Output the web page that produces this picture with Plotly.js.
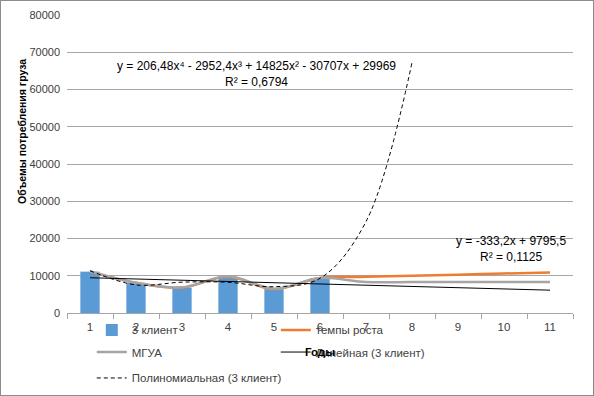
<!DOCTYPE html>
<html><head><meta charset="utf-8">
<script src="https://cdn.plot.ly/plotly-3.0.1.min.js"></script>
<style>html,body{margin:0;padding:0;background:#fff}#chart{width:592px;height:394px;border:1px solid #8c8c8c}</style>
</head><body><div id="chart"></div><script>
// Data
const years = ['1','2','3','4','5','6','7','8','9','10','11'];
const client3Years = ['1','2','3','4','5','6'];
const client3 = [11100, 8100, 6800, 9750, 6400, 9400];
const growthRate = [11100, 8100, 6800, 9750, 6400, 9400, 9700, 10000, 10300, 10600, 10900];
const mgua = [11200, 8100, 6900, 9850, 6500, 9400, 8300, 8300, 8300, 8300, 8300];
const linearYears = ['1', '11'];
const linearTrend = [9460, 6130];
const polyYears = ['1','2','3','4','5','6','7','8'];
const polyTrend = [11340, 7540, 8280, 8250, 7060, 9310, 24530, 67230];
const yTicks = [0, 10000, 20000, 30000, 40000, 50000, 60000, 70000, 80000];

const FONT = 'Liberation Sans, Arial, sans-serif';
const traces = [
  {type:'bar', name:'3 клиент', x:client3Years, y:client3, marker:{color:'#5B9BD5'}, legend:'legend'},
  {type:'scatter', mode:'lines', name:'темпы роста', x:years, y:growthRate, line:{color:'#ED7D31', width:2.5, shape:'spline'}, legend:'legend'},
  {type:'scatter', mode:'lines', name:'МГУА', x:years, y:mgua, line:{color:'#A5A5A5', width:2.5, shape:'spline'}, legend:'legend2'},
  {type:'scatter', mode:'lines', name:'Линейная (3 клиент)', x:linearYears, y:linearTrend, line:{color:'#000000', width:1}, legend:'legend2'},
  {type:'scatter', mode:'lines', name:'Полиномиальная (3 клиент)', x:polyYears, y:polyTrend, line:{color:'#000000', width:1, dash:'4px,3px', shape:'spline'}, legend:'legend3'}
];
const legBase = {orientation:'h', xanchor:'left', yanchor:'middle', entrywidth:139, entrywidthmode:'pixels', bgcolor:'rgba(0,0,0,0)', font:{family:FONT, size:11.5, color:'#404040'}, traceorder:'normal'};
const annFont = {family:FONT, size:12, color:'#000'};
const layout = {
  width:592, height:394,
  margin:{l:66, r:20, t:14, b:82, autoexpand:false},
  paper_bgcolor:'#fff', plot_bgcolor:'#fff',
  font:{family:FONT, size:11, color:'#595959'},
  bargap:0.58,
  showlegend:true,
  xaxis:{type:'category', categoryorder:'array', categoryarray:years, range:[-0.5, 10.5], showgrid:false, showline:true, linecolor:'#a6a6a6', linewidth:1, automargin:false,
         ticks:'outside', tickson:'boundaries', ticklen:5, tickcolor:'#a6a6a6', ticklabelstandoff:3, tickfont:{family:FONT, size:11.5, color:'#404040'},
         title:{text:'<b>Годы</b>', font:{family:FONT, size:11.5, color:'#000'}, standoff:16}},
  yaxis:{range:[0, 80000], tickvals:yTicks, tickformat:'d', showgrid:true, gridcolor:'#a6a6a6', gridwidth:1, zeroline:false, showline:false, automargin:false,
         tickfont:{family:FONT, size:11, color:'#404040'}, ticklabelstandoff:6},
  legend: Object.assign({}, legBase, {x:0.049, y:-0.057}),
  legend2: Object.assign({}, legBase, {x:0.049, y:-0.131}),
  legend3: Object.assign({}, legBase, {x:0.049, y:-0.218, entrywidth:220}),
  annotations:[
    {xref:'paper', yref:'paper', x:0.375, y:0.829, xanchor:'center', yanchor:'middle', text:'y = 206,48x⁴ - 2952,4x³ + 14825x² - 30707x + 29969', showarrow:false, font:annFont},
    {xref:'paper', yref:'paper', x:0.375, y:0.775, xanchor:'center', yanchor:'middle', text:'R² = 0,6794', showarrow:false, font:annFont},
    {xref:'paper', yref:'paper', x:0.877, y:0.2416, xanchor:'center', yanchor:'middle', text:'y = -333,2x + 9795,5', showarrow:false, font:annFont},
    {xref:'paper', yref:'paper', x:0.877, y:0.188, xanchor:'center', yanchor:'middle', text:'R² = 0,1125', showarrow:false, font:annFont},
    {xref:'paper', yref:'paper', x:-0.089, y:0.611, xanchor:'center', yanchor:'middle', text:'<b>Объемы потребления груза</b>', textangle:-90, showarrow:false, font:{family:FONT, size:10.5, color:'#000'}}
  ]
};
Plotly.newPlot('chart', traces, layout, {displayModeBar:false, staticPlot:true});
</script></body></html>
